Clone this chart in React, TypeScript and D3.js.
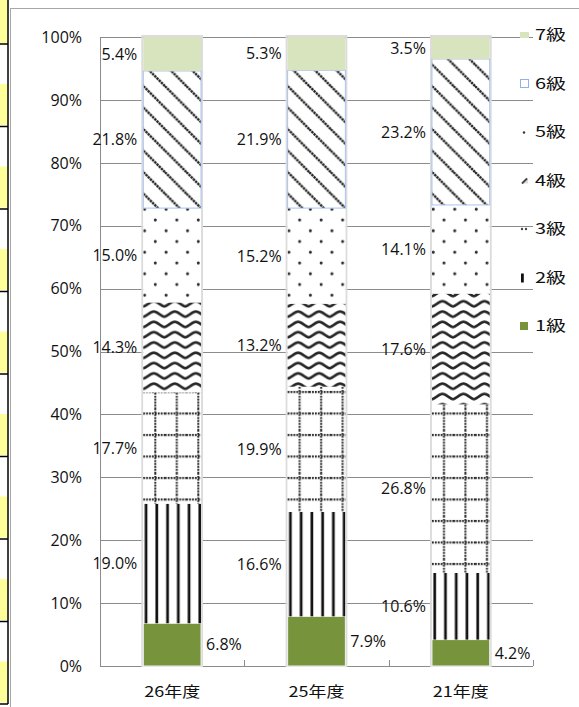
import React, { useEffect, useRef } from 'react';
import * as d3 from 'd3';

const categories = ['26年度', '25年度', '21年度'];
const grades = ['1級', '2級', '3級', '4級', '5級', '6級', '7級'];
const grade1 = [6.8, 7.9, 4.2];
const grade2 = [19.0, 16.6, 10.6];
const grade3 = [17.7, 19.9, 26.8];
const grade4 = [14.3, 13.2, 17.6];
const grade5 = [15.0, 15.2, 14.1];
const grade6 = [21.8, 21.9, 23.2];
const grade7 = [5.4, 5.3, 3.5];
const yTicks = [0, 10, 20, 30, 40, 50, 60, 70, 80, 90, 100];

const FONT = '"Open Sans", "Noto Sans CJK JP", sans-serif';
const CJK = '"Noto Sans CJK JP", "Open Sans", sans-serif';

type Row = { cat: string; [k: string]: number | string };

function addPatterns(defs: d3.Selection<SVGDefsElement, unknown, null, undefined>, x0: number, i: number) {
    const mk = (id: string, w: number, h: number) => {
        const p = defs.append('pattern')
            .attr('id', `${id}-${i}`)
            .attr('patternUnits', 'userSpaceOnUse')
            .attr('x', x0).attr('y', 0)
            .attr('width', w).attr('height', h);
        p.append('rect').attr('width', w).attr('height', h).attr('fill', '#fff');
        return p;
    };
    // 2級 vertical lines
    const p2 = mk('p2', 10.75, 10);
    p2.append('rect').attr('x', 1.4).attr('width', 2.7).attr('height', 10).attr('fill', '#111');
    // 3級 dotted grid
    const p3 = mk('p3', 21.5, 21.5);
    p3.append('line').attr('x1', 0).attr('x2', 21.5).attr('y1', 5).attr('y2', 5)
        .attr('stroke', '#2a2a2a').attr('stroke-width', 2).attr('stroke-dasharray', '1.8 1.1');
    p3.append('line').attr('x1', 12).attr('x2', 12).attr('y1', 0).attr('y2', 21.5)
        .attr('stroke', '#2a2a2a').attr('stroke-width', 2).attr('stroke-dasharray', '1.8 1.1');
    // 4級 waves
    const p4 = mk('p4', 21, 10.3);
    p4.append('path').attr('d', 'M-1,8 C3,8 6.5,2.5 10.5,2.5 C14.5,2.5 18,8 22,8')
        .attr('fill', 'none').attr('stroke', '#262626').attr('stroke-width', 2.6);
    // 5級 dots
    const p5 = mk('p5', 21.5, 21.5);
    [[12, 5], [1.3, 15.75], [22.8, 15.75]].forEach(([cx, cy]) => {
        p5.append('circle').attr('cx', cx).attr('cy', cy).attr('r', 1.5).attr('fill', '#2a2a2a');
    });
    // 6級 diagonal
    const p6 = mk('p6', 21.5, 21.5);
    ['M-2,-2 L23.5,23.5', 'M-6,15.5 L6,27.5', 'M15.5,-6 L27.5,6'].forEach((d) => {
        p6.append('path').attr('d', d).attr('stroke', '#222').attr('stroke-width', 2.4)
            .attr('stroke-dasharray', '2.4 0.7').attr('fill', 'none');
    });
}

function drawChart(svgRoot: SVGSVGElement) {
    const svg = d3.select(svgRoot);
    svg.selectChildren().remove();

    const width = 579;
    const height = 707;
    const margin = { top: 37, left: 100, right: 46, bottom: 41 };

    const series = [grade1, grade2, grade3, grade4, grade5, grade6, grade7];
    const rows: Row[] = categories.map((cat, i) => {
        const r: Row = { cat };
        grades.forEach((g, k) => { r[g] = series[k][i]; });
        return r;
    });
    const stacked = d3.stack<Row>().keys(grades)(rows);

    const x = d3.scaleBand().domain(categories)
        .range([margin.left, width - margin.right])
        .paddingInner(0.6).paddingOuter(0.3);
    const y = d3.scaleLinear().domain([0, 100]).range([height - margin.bottom, margin.top]);

    svg.attr('width', width).attr('height', height).attr('viewBox', [0, 0, width, height] as any);
    const defs = svg.append('defs');
    categories.forEach((c, i) => addPatterns(defs, x(c)!, i));

    // left strip (spreadsheet cells)
    const strip = svg.append('g');
    const lines = d3.range(9).map((k) => 44 + k * 82.5);
    strip.append('rect').attr('x', 0).attr('y', 0).attr('width', 7.5).attr('height', 43).attr('fill', '#ffff99');
    lines.slice(0, 8).forEach((ly) => {
        strip.append('rect').attr('x', 0).attr('y', ly + 40).attr('width', 7.5).attr('height', 41).attr('fill', '#ffff99');
    });
    lines.forEach((ly) => {
        strip.append('line').attr('x1', 0).attr('x2', 8).attr('y1', ly).attr('y2', ly)
            .attr('stroke', '#000').attr('stroke-width', 1.5);
    });
    strip.append('line').attr('x1', 8).attr('x2', 8).attr('y1', 0).attr('y2', 704)
        .attr('stroke', '#000').attr('stroke-width', 1.5);

    // chart frame
    svg.append('rect').attr('x', 10.5).attr('y', 8.5).attr('width', 600).attr('height', 720)
        .attr('fill', '#fff').attr('stroke', '#a6a6a6').attr('stroke-width', 1);

    // gridlines
    svg.append('g').selectAll('line').data(yTicks).join('line')
        .attr('x1', margin.left).attr('x2', width - margin.right)
        .attr('y1', (d) => Math.round(y(d)) + 0.5).attr('y2', (d) => Math.round(y(d)) + 0.5)
        .attr('stroke', '#8c8c8c').attr('stroke-width', 1);
    svg.append('line').attr('x1', margin.left + 0.5).attr('x2', margin.left + 0.5)
        .attr('y1', y(100)).attr('y2', y(0)).attr('stroke', '#8c8c8c');
    const bounds = [margin.left, ...categories.map((c) => x(c)! + x.bandwidth() + x.step() * 0.3)];
    svg.append('g').selectAll('line').data(bounds).join('line')
        .attr('x1', (d) => Math.round(d) + 0.5).attr('x2', (d) => Math.round(d) + 0.5)
        .attr('y1', y(0) - 6).attr('y2', y(0)).attr('stroke', '#8c8c8c');

    // y tick labels
    svg.append('g').selectAll('text').data(yTicks).join('text')
        .attr('x', 82).attr('y', (d) => y(d)).attr('dy', '0.36em')
        .attr('text-anchor', 'end').attr('font-family', FONT).attr('font-size', 16)
        .attr('fill', '#111').text((d) => `${d}%`);

    // x labels
    svg.append('g').selectAll('text').data(categories).join('text')
        .attr('x', (d) => x(d)! + x.bandwidth() / 2).attr('y', 697)
        .attr('text-anchor', 'middle').attr('font-family', CJK).attr('font-size', 15)
        .attr('textLength', 56).attr('lengthAdjust', 'spacingAndGlyphs')
        .attr('fill', '#111').text((d) => d);

    const fills = ['#77933c', 'p2', 'p3', 'p4', 'p5', 'p6', '#d7e4bd'];
    const fillFor = (k: number, i: number) => fills[k].startsWith('#') ? fills[k] : `url(#${fills[k]}-${i})`;

    // bar shadows / outline
    svg.append('g').selectAll('rect').data(categories).join('rect')
        .attr('x', (d) => x(d)! - 1).attr('y', y(100) - 1)
        .attr('width', x.bandwidth() + 2).attr('height', y(0) - y(100) + 1)
        .attr('fill', 'none').attr('stroke', '#dcdcdc').attr('stroke-width', 2);

    // segments
    stacked.forEach((s, k) => {
        svg.append('g').selectAll('rect').data(s).join('rect')
            .attr('x', (d) => x(d.data.cat)!)
            .attr('y', (d) => y(d[1]))
            .attr('width', x.bandwidth())
            .attr('height', (d) => y(d[0]) - y(d[1]))
            .attr('fill', (d, i) => fillFor(k, i))
            .attr('stroke', k === 5 ? '#a9c2ef' : (k === 0 ? '#f2f2f2' : 'none'))
            .attr('stroke-width', 1);
    });

    // data labels
    stacked.forEach((s, k) => {
        svg.append('g').selectAll('text').data(s).join('text')
            .attr('x', (d) => k === 0 ? x(d.data.cat)! + x.bandwidth() + 5 : x(d.data.cat)! - 6)
            .attr('y', (d) => y((d[0] + d[1]) / 2)).attr('dy', '0.36em')
            .attr('text-anchor', k === 0 ? 'start' : 'end')
            .attr('font-family', FONT).attr('font-size', 16).attr('fill', '#111')
            .text((d) => `${(d[1] - d[0]).toFixed(1)}%`);
    });

    // legend (top = 7級)
    const legend = svg.append('g');
    const order = grades.slice().reverse();
    order.forEach((g, j) => {
        const cy = 35 + j * 48.5;
        const item = legend.append('g').attr('transform', `translate(520,${cy})`);
        if (g === '7級') {
            item.append('rect').attr('x', 0).attr('y', -3).attr('width', 9).attr('height', 6).attr('fill', '#d7e4bd');
        } else if (g === '6級') {
            item.append('rect').attr('x', 0.5).attr('y', -4).attr('width', 8).attr('height', 8)
                .attr('fill', '#fff').attr('stroke', '#8fb0ea');
        } else if (g === '5級') {
            item.append('circle').attr('cx', 4).attr('cy', 0.5).attr('r', 1.2).attr('fill', '#333');
        } else if (g === '4級') {
            item.append('path').attr('d', 'M1,3 L8,-3 L8,3 Z').attr('fill', '#ddd');
            item.append('path').attr('d', 'M2,3 L7,-2').attr('stroke', '#444').attr('stroke-width', 1.8);
        } else if (g === '3級') {
            item.append('circle').attr('cx', 2).attr('cy', 0).attr('r', 1.2).attr('fill', '#444');
            item.append('circle').attr('cx', 6).attr('cy', 0).attr('r', 1.2).attr('fill', '#444');
        } else if (g === '2級') {
            item.append('rect').attr('x', 1).attr('y', -4).attr('width', 2.8).attr('height', 9).attr('fill', '#111');
        } else {
            item.append('rect').attr('x', 0).attr('y', -4).attr('width', 8).attr('height', 8).attr('fill', '#77933c');
        }
        item.append('text').attr('x', 15).attr('y', 0).attr('dy', '0.36em')
            .attr('font-family', CJK).attr('font-size', 15)
            .attr('textLength', 31).attr('lengthAdjust', 'spacingAndGlyphs')
            .attr('fill', '#111').text(g);
    });
}

export default function App() {
    const svgRef = useRef<SVGSVGElement>(null);

    useEffect(() => {
        document.body.style.margin = '0';
        svgRef.current && drawChart(svgRef.current);
    }, []);

    return (
        <svg ref={svgRef} style={{ display: 'block' }}></svg>
    );
}
